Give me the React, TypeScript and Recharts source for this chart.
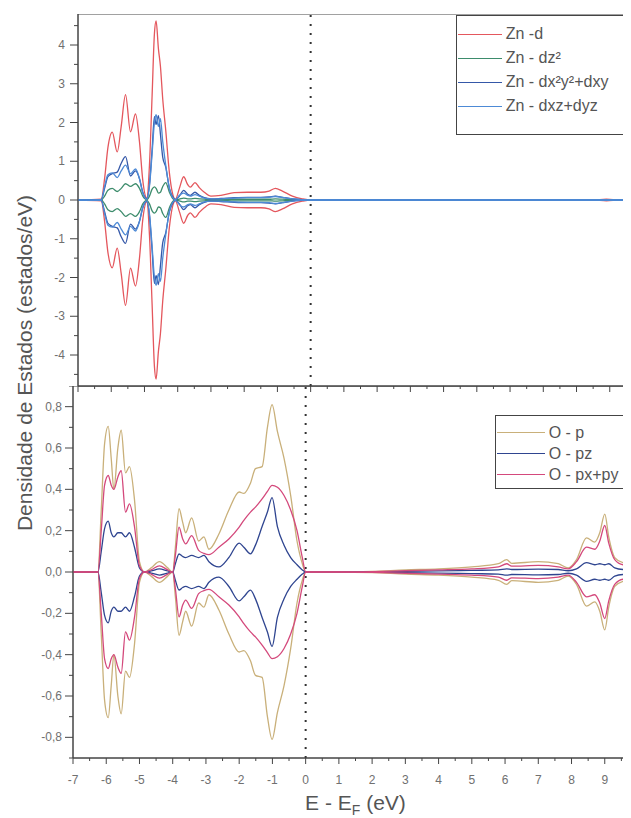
import React from "react";
import { LineChart, Line, XAxis, YAxis, ReferenceLine, ReferenceArea, Legend } from "recharts";

const FONT = '"Liberation Sans", Arial, sans-serif';
const AXIS = "#444";
const TICK_TEXT = "#707070";

// axis ticks
const xTicks = [-7, -6.5, -6, -5.5, -5, -4.5, -4, -3.5, -3, -2.5, -2, -1.5, -1, -0.5, 0, 0.5, 1, 1.5, 2, 2.5, 3, 3.5, 4, 4.5, 5, 5.5, 6, 6.5, 7, 7.5, 8, 8.5, 9, 9.5, 10];
const znTicks = [-4.5, -4, -3.5, -3, -2.5, -2, -1.5, -1, -0.5, 0, 0.5, 1, 1.5, 2, 2.5, 3, 3.5, 4, 4.5];
const oTicks = [-0.9, -0.8, -0.7, -0.6, -0.5, -0.4, -0.3, -0.2, -0.1, 0, 0.1, 0.2, 0.3, 0.4, 0.5, 0.6, 0.7, 0.8, 0.9];

// Zn d states (spin up; spin down is drawn mirrored)
const znNames = ["Zn -d", "Zn - dz²", "Zn - dx²y²+dxy", "Zn - dxz+dyz"];
const znColors = ["#e4575d", "#3d8c6c", "#3558a8", "#4d8ad6"];
const znEnergy = [-7, -6.3, -6.2, -6.1, -5.97, -5.82, -5.7, -5.57, -5.42, -5.27, -5.15, -5.05, -4.93, -4.85, -4.77, -4.7, -4.65, -4.58, -4.52, -4.45, -4.36, -4.25, -4.15, -4.07, -3.95, -3.82, -3.7, -3.62, -3.48, -3.35, -3.2, -3.0, -2.7, -2.3, -1.9, -1.5, -1.25, -1.06, -0.85, -0.55, -0.25, 0, 3, 6, 8.5, 8.9, 9.3, 10];
const znD = [0, 0.02, 0.55, 1.35, 1.75, 1.24, 1.9, 2.72, 1.76, 2.22, 1.5, 0.5, 0.05, 0.9, 2.7, 4.3, 4.62, 3.9, 3.45, 2.6, 1.8, 0.7, 0.15, 0.02, 0.3, 0.6, 0.4, 0.33, 0.45, 0.32, 0.2, 0.1, 0.12, 0.19, 0.2, 0.2, 0.23, 0.3, 0.23, 0.1, 0.03, 0, 0, 0, 0, 0.02, 0, 0];
const znDz2 = [0, 0, 0.1, 0.25, 0.3, 0.22, 0.3, 0.42, 0.35, 0.42, 0.3, 0.1, 0.01, 0.1, 0.28, 0.34, 0.3, 0.18, 0.2, 0.35, 0.45, 0.2, 0.04, 0, 0.02, 0.05, 0.03, 0.03, 0.04, 0.03, 0.02, 0.01, 0.01, 0.02, 0.02, 0.02, 0.02, 0.03, 0.02, 0.01, 0, 0, 0, 0, 0, 0, 0, 0];
const znDx2y2 = [0, 0.01, 0.3, 0.6, 0.68, 0.72, 0.95, 1.12, 0.62, 0.75, 0.55, 0.2, 0.03, 0.4, 1.3, 2.15, 1.95, 2.18, 1.7, 1.1, 0.85, 0.3, 0.08, 0.01, 0.1, 0.25, 0.15, 0.12, 0.2, 0.12, 0.06, 0.03, 0.04, 0.06, 0.07, 0.07, 0.08, 0.1, 0.07, 0.03, 0.01, 0, 0, 0, 0, 0, 0, 0];
const znDxz = [0, 0.01, 0.35, 0.65, 0.7, 0.58, 0.75, 0.9, 0.68, 0.8, 0.55, 0.18, 0.02, 0.35, 1.2, 2.0, 2.2, 1.9, 2.1, 1.5, 0.9, 0.3, 0.06, 0.01, 0.12, 0.18, 0.12, 0.1, 0.14, 0.1, 0.05, 0.03, 0.03, 0.05, 0.06, 0.06, 0.07, 0.09, 0.07, 0.03, 0.01, 0, 0, 0, 0, 0, 0, 0];

// O p states
const oNames = ["O - p", "O - pz", "O - px+py"];
const oColors = ["#c9b07a", "#2f4590", "#d4497c"];
const oEnergy = [-7, -6.25, -6.15, -6.05, -5.94, -5.85, -5.77, -5.65, -5.55, -5.42, -5.3, -5.15, -5.0, -4.85, -4.65, -4.4, -4.15, -4.0, -3.92, -3.81, -3.7, -3.61, -3.43, -3.22, -3.06, -2.91, -2.61, -2.31, -2.0, -1.86, -1.66, -1.51, -1.31, -1.15, -1.01, -0.85, -0.65, -0.45, -0.26, -0.1, 0, 1, 2, 3, 4, 5, 5.8, 6.05, 6.2, 7, 7.6, 7.9, 8.15, 8.45, 8.7, 8.85, 9.0, 9.12, 9.3, 9.55, 10];
const oP = [0, 0, 0.3, 0.62, 0.705, 0.55, 0.4, 0.6, 0.686, 0.48, 0.51, 0.35, 0.05, 0, 0.02, 0.05, 0.02, 0, 0.12, 0.306, 0.24, 0.19, 0.262, 0.15, 0.17, 0.11, 0.184, 0.3, 0.387, 0.38, 0.43, 0.5, 0.51, 0.7, 0.81, 0.68, 0.55, 0.37, 0.15, 0.04, 0, 0, 0.003, 0.01, 0.015, 0.025, 0.04, 0.06, 0.042, 0.05, 0.04, 0.02, 0.06, 0.165, 0.145, 0.19, 0.28, 0.17, 0.07, 0.045, 0.035];
const oPz = [0, 0, 0.1, 0.21, 0.246, 0.19, 0.17, 0.19, 0.19, 0.17, 0.19, 0.12, 0.02, 0, 0.005, 0.015, 0.005, 0, 0.04, 0.087, 0.075, 0.07, 0.08, 0.07, 0.08, 0.05, 0.025, 0.07, 0.14, 0.12, 0.088, 0.13, 0.22, 0.29, 0.36, 0.22, 0.13, 0.07, 0.035, 0.01, 0, 0, 0, 0.003, 0.005, 0.008, 0.01, 0.015, 0.012, 0.014, 0.012, 0.006, 0.015, 0.045, 0.035, 0.04, 0.035, 0.04, 0.02, 0.012, 0.01];
const oPxy = [0, 0, 0.2, 0.42, 0.467, 0.42, 0.4, 0.46, 0.49, 0.29, 0.33, 0.22, 0.03, 0, 0.01, 0.03, 0.01, 0, 0.08, 0.217, 0.16, 0.136, 0.176, 0.105, 0.09, 0.084, 0.12, 0.16, 0.217, 0.25, 0.29, 0.314, 0.354, 0.39, 0.419, 0.41, 0.37, 0.3, 0.2, 0.07, 0, 0, 0.002, 0.006, 0.01, 0.015, 0.025, 0.04, 0.028, 0.032, 0.025, 0.015, 0.05, 0.12, 0.11, 0.15, 0.225, 0.14, 0.06, 0.035, 0.03];

const znSeries = [znD, znDz2, znDx2y2, znDxz];
const oSeries = [oP, oPz, oPxy];

function buildRows(energy: number[], series: number[][]) {
  return energy.map((e, i) => {
    const row: Record<string, number> = { e };
    series.forEach((s, k) => {
      row[`s${k}up`] = s[i];
      row[`s${k}dn`] = -s[i];
    });
    return row;
  });
}

const znRows = buildRows(znEnergy, znSeries);
const oRows = buildRows(oEnergy, oSeries);

const isMultiple = (v: number, step: number) => Math.abs(v / step - Math.round(v / step)) < 1e-6;

const TopXTick = (p: any) => {
  const major = isMultiple(p.payload.value, 1);
  return <line x1={p.x} x2={p.x} y1={p.y} y2={p.y + (major ? 6 : 3)} stroke={AXIS} />;
};

const BottomXTick = (p: any) => {
  const v = p.payload.value;
  const major = isMultiple(v, 1);
  return (
    <g>
      <line x1={p.x} x2={p.x} y1={p.y} y2={p.y + (major ? 6 : 3)} stroke={AXIS} />
      {major && v < 10 && (
        <text x={p.x} y={p.y + 26} textAnchor="middle" fontSize={12} fontFamily={FONT} fill={TICK_TEXT}>
          {v}
        </text>
      )}
    </g>
  );
};

const ZnYTick = (p: any) => {
  const v = p.payload.value;
  const major = isMultiple(v, 1);
  return (
    <g>
      <line x1={p.x - (major ? 8 : 4)} x2={p.x} y1={p.y} y2={p.y} stroke={AXIS} />
      {major && (
        <text x={p.x - 13} y={p.y + 4} textAnchor="end" fontSize={12} fontFamily={FONT} fill={TICK_TEXT}>
          {v}
        </text>
      )}
    </g>
  );
};

const OYTick = (p: any) => {
  const v = p.payload.value;
  const major = isMultiple(v, 0.2);
  return (
    <g>
      <line x1={p.x - (major ? 8 : 4)} x2={p.x} y1={p.y} y2={p.y} stroke={AXIS} />
      {major && (
        <text x={p.x - 11} y={p.y + 4} textAnchor="end" fontSize={12} fontFamily={FONT} fill={TICK_TEXT}>
          {v.toFixed(1).replace(".", ",")}
        </text>
      )}
    </g>
  );
};

const EnergyLabel = (props: any) => {
  const { x, y, width } = props.viewBox;
  return (
    <text x={x + width / 2} y={y + 52} textAnchor="middle" fontSize={21} fontFamily={FONT} fill="#555">
      E - E
      <tspan dy={5} fontSize={14}>F</tspan>
      <tspan dy={-5}>{" (eV)"}</tspan>
    </text>
  );
};

function makeLegend(names: string[], rowH: number, lineW: number, boxW: number, boxH: number) {
  return ({ payload }: any) => {
    const seen = new Set<string>();
    const items = (payload || [])
      .filter((it: any) => !String(it.dataKey ?? "").endsWith("dn"))
      .filter((it: any) => (seen.has(it.value) ? false : (seen.add(it.value), true)))
      .sort((a: any, b: any) => names.indexOf(a.value) - names.indexOf(b.value));
    return (
      <div
        style={{
          width: boxW,
          height: boxH,
          boxSizing: "border-box",
          border: `1px solid ${AXIS}`,
          background: "#fff",
          paddingTop: 6,
          fontFamily: FONT,
          fontSize: 16,
          color: "#555",
        }}
      >
        {items.map((item: any) => (
          <div key={item.value} style={{ display: "flex", alignItems: "center", height: rowH }}>
            <span style={{ display: "inline-block", width: lineW, borderTop: `1px solid ${item.color}`, marginLeft: 1, marginRight: 4 }} />
            <span>{item.value}</span>
          </div>
        ))}
      </div>
    );
  };
}

function seriesLines(series: number[][], names: string[], colors: string[]) {
  return series.flatMap((_, k) => [
    <Line
      key={`up${k}`}
      type="monotone"
      dataKey={`s${k}up`}
      name={names[k]}
      stroke={colors[k]}
      strokeWidth={1.3}
      dot={false}
      activeDot={false}
      isAnimationActive={false}
    />,
    <Line
      key={`dn${k}`}
      type="monotone"
      dataKey={`s${k}dn`}
      name={names[k]}
      legendType="none"
      stroke={colors[k]}
      strokeWidth={1.3}
      dot={false}
      activeDot={false}
      isAnimationActive={false}
    />,
  ]);
}

export default function App() {
  return (
    <div style={{ position: "relative", width: 623, height: 810, overflow: "hidden", fontFamily: FONT }}>
      <div style={{ position: "absolute", left: 29.7, top: 6 }}>
        <LineChart width={605} height={380} data={znRows} margin={{ top: 0, right: 0, bottom: 0, left: 0 }}>
          <XAxis
            dataKey="e"
            type="number"
            domain={[-7, 10]}
            ticks={xTicks}
            interval={0}
            allowDataOverflow
            height={8}
            tickSize={0}
            tickMargin={0}
            tickLine={false}
            axisLine={{ stroke: AXIS }}
            tick={TopXTick}
          />
          <YAxis
            type="number"
            domain={[-4.8, 4.8]}
            ticks={znTicks}
            interval={0}
            allowDataOverflow
            width={40}
            tickSize={0}
            tickMargin={0}
            tickLine={false}
            axisLine={{ stroke: AXIS }}
            tick={ZnYTick}
          />
          <ReferenceArea x1={-7} x2={10} y1={-4.8} y2={4.8} fill="none" stroke={AXIS} />
          <ReferenceLine x={0} stroke="#333" strokeWidth={2} strokeDasharray="2 7" />
          {seriesLines(znSeries, znNames, znColors)}
          <Legend
            layout="vertical"
            align="center"
            verticalAlign="middle"
            wrapperStyle={{ left: 418, top: 1, width: 200 }}
            content={makeLegend(znNames, 24, 44, 200, 120)}
          />
        </LineChart>
      </div>

      <div style={{ position: "absolute", left: 24.7, top: 378 }}>
        <LineChart width={605} height={432} data={oRows} margin={{ top: 0, right: 0, bottom: 0, left: 0 }}>
          <XAxis
            dataKey="e"
            type="number"
            domain={[-7, 10]}
            ticks={xTicks}
            interval={0}
            allowDataOverflow
            height={60}
            tickSize={0}
            tickMargin={0}
            tickLine={false}
            axisLine={{ stroke: AXIS }}
            tick={BottomXTick}
            label={<EnergyLabel />}
          />
          <YAxis
            type="number"
            domain={[-0.9, 0.9]}
            ticks={oTicks}
            interval={0}
            allowDataOverflow
            width={40}
            tickSize={0}
            tickMargin={0}
            tickLine={false}
            axisLine={{ stroke: AXIS }}
            tick={OYTick}
          />
          <ReferenceArea x1={-7} x2={10} y1={-0.9} y2={0.9} fill="none" stroke={AXIS} />
          <ReferenceLine x={0} stroke="#333" strokeWidth={2} strokeDasharray="2 7" />
          {seriesLines(oSeries, oNames, oColors)}
          <Legend
            layout="vertical"
            align="center"
            verticalAlign="middle"
            wrapperStyle={{ left: 462, top: 29, width: 200 }}
            content={makeLegend(oNames, 21, 48, 200, 74)}
          />
        </LineChart>
      </div>

      <div
        style={{
          position: "absolute",
          left: 17,
          top: 355,
          transform: "translate(-50%, -50%) rotate(-90deg)",
          whiteSpace: "nowrap",
          fontSize: 21,
          color: "#555",
          fontFamily: FONT,
        }}
      >
        Densidade de Estados (estados/eV)
      </div>
    </div>
  );
}
